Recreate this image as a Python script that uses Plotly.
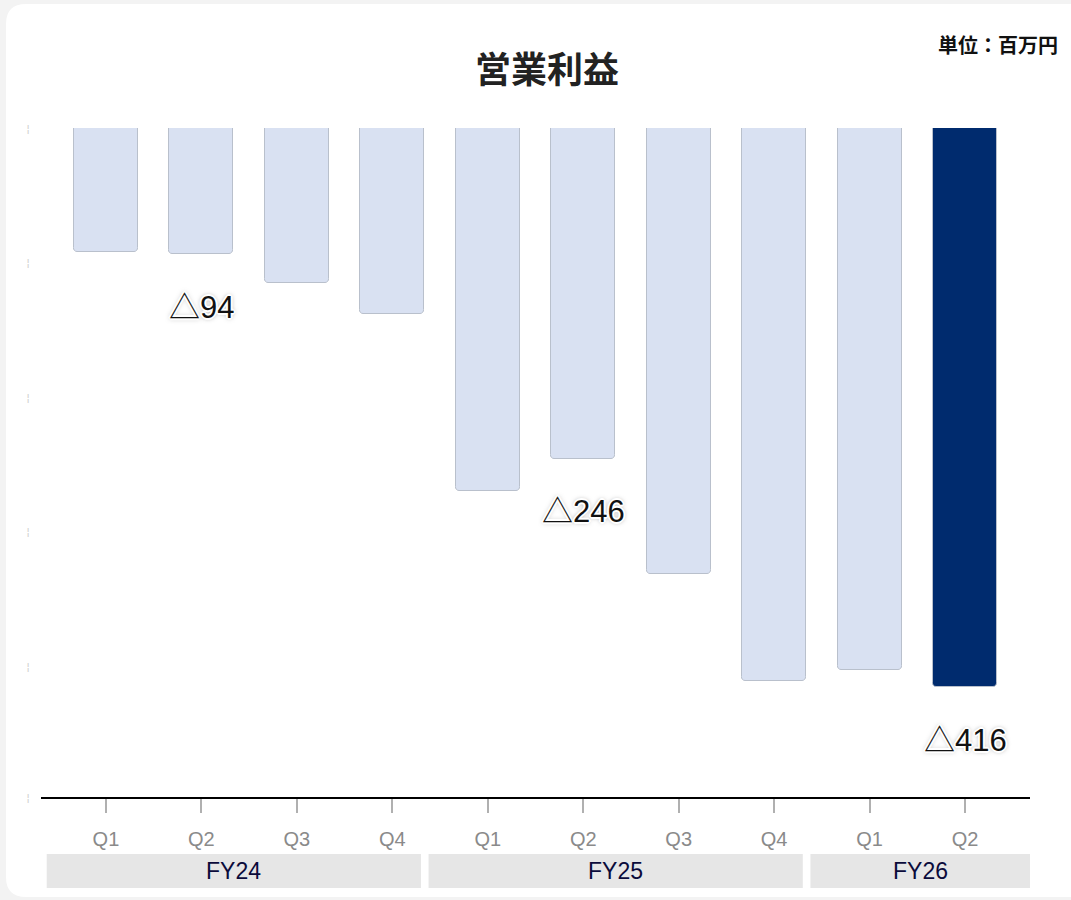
import plotly.graph_objects as go

# Quarterly operating profit (millions of yen)
quarters = ["Q1", "Q2", "Q3", "Q4", "Q1", "Q2", "Q3", "Q4", "Q1", "Q2"]
fiscal_years = ["FY24", "FY24", "FY24", "FY24", "FY25", "FY25", "FY25", "FY25", "FY26", "FY26"]
operating_profit = [-92, -94, -115, -138, -270, -246, -332, -411, -403, -416]
labeled_points = [1, 5, 9]          # bars that carry a value label
highlight_index = 9                 # latest quarter

x_idx = list(range(len(quarters)))
light = "#d9e1f2"
dark = "#002b6e"
colors = [dark if i == highlight_index else light for i in x_idx]

# page geometry (pixels) for the plotting area
W, H = 1071, 900
L, R, T, B = 41, 1030, 128, 797
pw, ph = R - L, B - T


def px_x(px):
    return (px - L) / pw


def px_y(py):
    return (B - py) / ph


fig = go.Figure()
fig.add_trace(go.Bar(
    x=x_idx,
    y=operating_profit,
    width=0.67,
    marker=dict(color=colors, line=dict(color="#b9c0cc", width=1), cornerradius=4),
    hoverinfo="skip",
))

shapes = []
# white rounded card on a light grey page
cx0, cy0, cx1, cy1, r = 6, 4, 1090, 897, 20
rx, ry = r / pw, r / ph
X0, X1 = px_x(cx0), px_x(cx1)
Y0, Y1 = px_y(cy0), px_y(cy1)
card = (f"M {X0+rx},{Y0} L {X1-rx},{Y0} Q {X1},{Y0} {X1},{Y0-ry} "
        f"L {X1},{Y1+ry} Q {X1},{Y1} {X1-rx},{Y1} L {X0+rx},{Y1} "
        f"Q {X0},{Y1} {X0},{Y1+ry} L {X0},{Y0-ry} Q {X0},{Y0} {X0+rx},{Y0} Z")
shapes.append(dict(type="path", path=card, xref="paper", yref="paper",
                   fillcolor="white", line=dict(width=0), layer="below"))

# fiscal-year group boxes under the quarter labels
annotations = []
groups = []
for i, fy in enumerate(fiscal_years):
    if not groups or groups[-1][0] != fy:
        groups.append([fy, i, i])
    else:
        groups[-1][2] = i
box_top, box_bot = px_y(854), px_y(888)
for k, (fy, first, last) in enumerate(groups):
    x0 = first - 0.62
    x1 = last + 0.30 if k < len(groups) - 1 else len(quarters) - 1 + 0.68
    shapes.append(dict(type="rect", xref="x", yref="paper", x0=x0, x1=x1,
                       y0=box_bot, y1=box_top, fillcolor="#e6e6e6",
                       line=dict(width=0), layer="below"))
    annotations.append(dict(x=(x0 + x1) / 2, y=(box_top + box_bot) / 2,
                            xref="x", yref="paper", text=fy, showarrow=False,
                            font=dict(family="Liberation Sans, Arial", size=23,
                                      color="#0b0b3b"),
                            xanchor="center", yanchor="middle"))

# value labels below selected bars, with a white halo
halo = ("-1px -1px 0 #fff, 1px -1px 0 #fff, -1px 1px 0 #fff, 1px 1px 0 #fff, "
        "-2px 0 0 #fff, 2px 0 0 #fff, 0 -2px 0 #fff, 0 2px 0 #fff, "
        "0 0 5px #777")
for i in labeled_points:
    v = operating_profit[i]
    annotations.append(dict(
        x=i, y=v, xref="x", yref="y",
        text=f"<span style='font-family:Noto Sans CJK JP'>△</span>{abs(v)}",
        showarrow=False, yshift=-50, xanchor="center", yanchor="middle",
        font=dict(family="Liberation Sans, Arial", size=31, color="#111111",
                  shadow=halo),
    ))

# title and unit note
annotations.append(dict(x=px_x(547), y=px_y(67), xref="paper", yref="paper",
                        text="<b>営業利益</b>", showarrow=False,
                        xanchor="center", yanchor="middle",
                        font=dict(family="Noto Sans CJK JP", size=36, color="#222222")))
annotations.append(dict(x=px_x(1060), y=px_y(45), xref="paper", yref="paper",
                        text="<b>単位：百万円</b>", showarrow=False,
                        xanchor="right", yanchor="middle",
                        font=dict(family="Noto Sans CJK JP", size=20, color="#111111")))

fig.update_layout(
    width=W, height=H,
    margin=dict(l=L, r=W - R, t=T, b=H - B),
    paper_bgcolor="#f3f3f3",
    plot_bgcolor="rgba(0,0,0,0)",
    showlegend=False,
    shapes=shapes,
    annotations=annotations,
    bargap=0,
)
fig.update_xaxes(
    range=[-0.68, len(quarters) - 1 + 0.68],
    tickmode="array", tickvals=x_idx, ticktext=quarters,
    showline=True, linecolor="#000000", linewidth=2,
    ticks="outside", ticklen=14, tickwidth=2, tickcolor="#b0b0b0",
    tickfont=dict(family="Liberation Sans, Arial", size=20, color="#8a8a8a"),
    ticklabelstandoff=9,
    showgrid=False, zeroline=False, fixedrange=True,
)
fig.update_yaxes(
    range=[-497.5, 0],
    tickmode="array", tickvals=[0, -100, -200, -300, -400, -497.5],
    ticktext=["¦"] * 6,
    tickfont=dict(family="DejaVu Sans", size=11, color="#cfcfcf"),
    ticklabelstandoff=10,
    showgrid=False, zeroline=False, showline=False, fixedrange=True,
)

fig.write_html("out.html")
